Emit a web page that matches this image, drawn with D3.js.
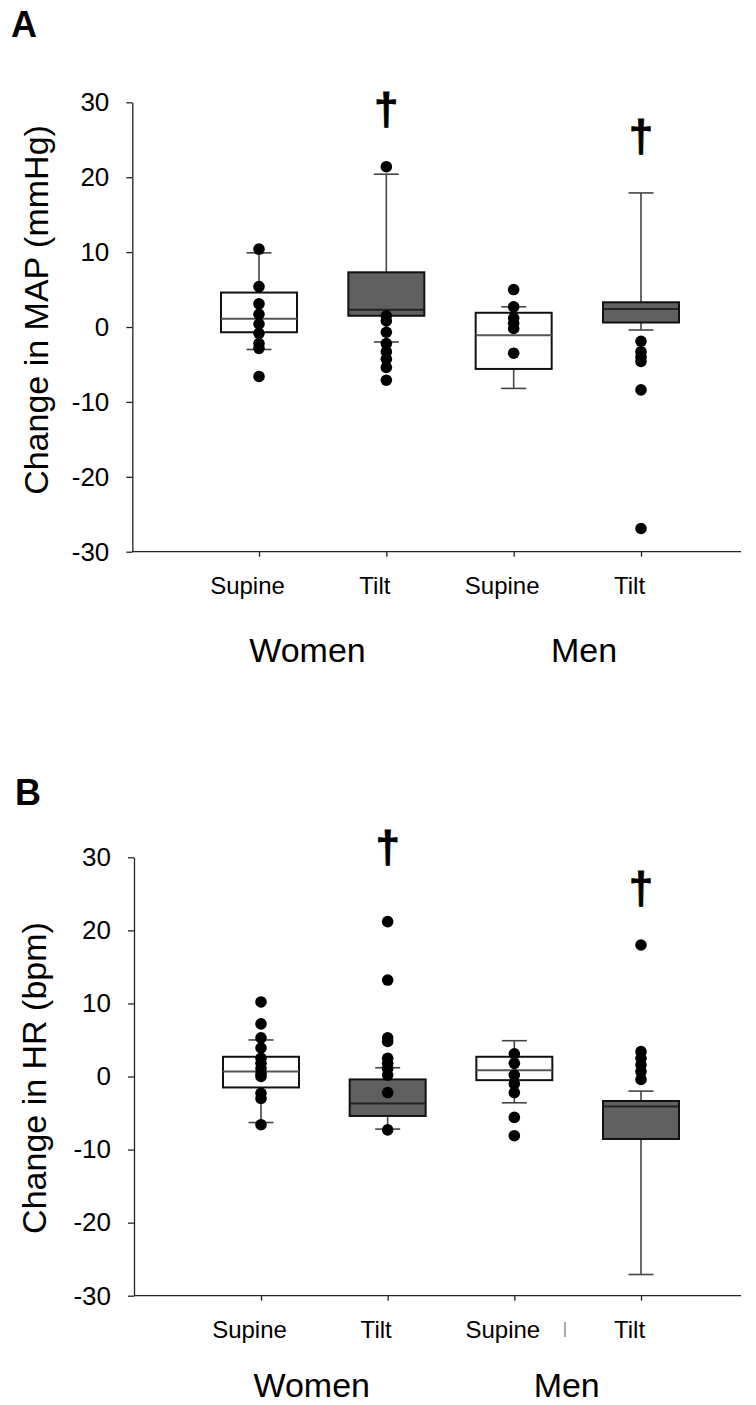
<!DOCTYPE html>
<html><head><meta charset="utf-8">
<script src="https://cdn.jsdelivr.net/npm/d3@7/dist/d3.min.js"></script>
<style>
html,body{margin:0;padding:0;background:#fff;}
svg{display:block;font-family:"Liberation Sans",Arial,sans-serif;}
</style></head>
<body>
<svg id="chart" width="756" height="1405"></svg>
<script>
// ---------- data ----------
const categories = ["Supine", "Tilt", "Supine", "Tilt"];
const groups = ["Women", "Men"];
const yTicks = [-30, -20, -10, 0, 10, 20, 30];
const boxFill = ["#ffffff", "#606060", "#ffffff", "#606060"];

// Panel A: change in MAP (mmHg)
const mapQ1 = [-0.7, 1.5, -5.6, 0.6];
const mapMedian = [1.1, 2.3, -1.1, 2.4];
const mapQ3 = [4.6, 7.3, 1.9, 3.3];
const mapWhiskLo = [-3.0, -2.0, -8.2, -0.4];
const mapWhiskHi = [9.9, 20.4, 2.7, 17.9];
const mapPoints = [
  [10.4, 5.4, 3.1, 1.7, 0.4, -0.85, -2.2, -2.85, -6.6],
  [21.4, 1.5, 0.8, -0.7, -2.2, -3.3, -4.3, -5.4, -7.1],
  [5.0, 2.7, 1.2, 0.5, -0.2, -3.5],
  [-1.9, -3.3, -4.0, -4.6, -8.4, -26.9]
];
const mapDagger = [null, 27.1, null, 23.5];

// Panel B: change in HR (bpm)
const hrQ1 = [-1.5, -5.4, -0.5, -8.55];
const hrMedian = [0.7, -3.7, 0.85, -4.1];
const hrQ3 = [2.7, -0.4, 2.7, -3.35];
const hrWhiskLo = [-6.3, -7.2, -3.6, -27.1];
const hrWhiskHi = [5.0, 1.2, 4.9, -2.0];
const hrPoints = [
  [10.2, 7.2, 5.3, 3.9, 2.5, 1.8, 1.1, 0.4, 0.0, -2.3, -3.0, -6.6],
  [21.2, 13.2, 5.3, 4.8, 2.5, 1.8, 1.1, 0.2, -2.2, -7.3],
  [3.1, 1.8, 0.2, -1.0, -2.2, -5.6, -8.1],
  [18.0, 3.4, 2.5, 1.6, 0.7, -0.4]
];
const hrDagger = [null, 29.4, null, 23.8];

// ---------- drawing ----------
const svg = d3.select("#chart");

function panel(cfg) {
  const g = svg.append("g");
  const y = d3.scaleLinear().domain([-30, 30]).range([cfg.yBottom, cfg.yTop]);
  const x = d3.scalePoint().domain(d3.range(categories.length)).range([cfg.xFirst, cfg.xLast]);
  const halfW = 38, capHalf = 12.5;

  // panel letter
  g.append("text").attr("x", cfg.letterX).attr("y", cfg.letterY)
    .attr("font-size", 36).attr("font-weight", "bold").attr("fill", "#000").text(cfg.letter);

  // y axis
  const yAxis = g.append("g").attr("transform", `translate(${cfg.axisX},0)`)
    .call(d3.axisLeft(y).tickValues(yTicks).tickSize(6).tickSizeOuter(0).tickPadding(17).tickFormat(d => String(d)));
  yAxis.selectAll("path,line").attr("stroke", "#222").attr("stroke-width", 1.3);
  yAxis.selectAll("text").attr("font-size", 26).attr("fill", "#000")
    .attr("font-family", "'Liberation Sans',Arial,sans-serif");

  // x axis
  const xAxis = g.append("g").attr("transform", `translate(0,${cfg.yBottom})`)
    .call(d3.axisBottom(x).tickSize(5).tickSizeOuter(0).tickPadding(0).tickFormat(i => categories[i]));
  xAxis.select(".domain").remove();
  xAxis.selectAll("line").attr("stroke", "#222").attr("stroke-width", 1.3);
  xAxis.selectAll("text").attr("font-size", 24).attr("fill", "#000")
    .attr("font-family", "'Liberation Sans',Arial,sans-serif")
    .attr("dy", null).attr("y", cfg.catBaseline - cfg.yBottom).attr("dx", -12);
  g.append("line").attr("x1", cfg.axisX).attr("x2", 741)
    .attr("y1", cfg.yBottom).attr("y2", cfg.yBottom)
    .attr("stroke", "#222").attr("stroke-width", 1.3);

  // group labels
  g.selectAll("text.grp").data(groups).enter().append("text").attr("class", "grp")
    .attr("x", (d, i) => cfg.groupX[i]).attr("y", cfg.groupBaseline)
    .attr("text-anchor", "middle").attr("font-size", 34).attr("fill", "#000").text(d => d);

  // y label
  g.append("text")
    .attr("transform", `translate(${cfg.yLabelX},${cfg.yLabelY}) rotate(-90)`)
    .attr("text-anchor", "middle").attr("dominant-baseline", "central")
    .attr("font-size", 34).attr("fill", "#000").text(cfg.yLabel);

  // whiskers
  categories.forEach((c, i) => {
    const cx = x(i);
    const wg = g.append("g").attr("stroke", "#444").attr("stroke-width", 1.6);
    wg.append("line").attr("x1", cx).attr("x2", cx).attr("y1", y(cfg.q3[i])).attr("y2", y(cfg.hi[i]));
    wg.append("line").attr("x1", cx).attr("x2", cx).attr("y1", y(cfg.q1[i])).attr("y2", y(cfg.lo[i]));
    wg.append("line").attr("x1", cx - capHalf).attr("x2", cx + capHalf).attr("y1", y(cfg.hi[i])).attr("y2", y(cfg.hi[i]));
    wg.append("line").attr("x1", cx - capHalf).attr("x2", cx + capHalf).attr("y1", y(cfg.lo[i])).attr("y2", y(cfg.lo[i]));
  });

  // boxes
  categories.forEach((c, i) => {
    const cx = x(i);
    g.append("rect").attr("x", cx - halfW).attr("width", halfW * 2)
      .attr("y", y(cfg.q3[i])).attr("height", y(cfg.q1[i]) - y(cfg.q3[i]))
      .attr("fill", boxFill[i]).attr("stroke", "#111").attr("stroke-width", 2);
    g.append("line").attr("x1", cx - halfW).attr("x2", cx + halfW)
      .attr("y1", y(cfg.med[i])).attr("y2", y(cfg.med[i]))
      .attr("stroke", boxFill[i] === "#ffffff" ? "#555" : "#222").attr("stroke-width", 2);
  });

  // points
  categories.forEach((c, i) => {
    g.selectAll(null).data(cfg.points[i]).enter().append("circle")
      .attr("cx", x(i)).attr("cy", d => y(d)).attr("r", 5.8).attr("fill", "#000");
  });

  // significance daggers
  cfg.dagger.forEach((d, i) => {
    if (d === null) return;
    g.append("text").attr("x", x(i)).attr("y", y(d)).attr("text-anchor", "middle")
      .attr("font-size", 44).attr("font-weight", "bold").attr("fill", "#000")
      .attr("stroke", "#000").attr("stroke-width", 0.8).text("\u2020");
  });

  if (cfg.stray) {
    g.append("line").attr("x1", cfg.stray[0]).attr("x2", cfg.stray[0])
      .attr("y1", cfg.stray[1]).attr("y2", cfg.stray[2]).attr("stroke", "#555").attr("stroke-width", 1);
  }
}

panel({
  letter: "A", letterX: 11, letterY: 37,
  yTop: 102.3, yBottom: 551.7, axisX: 132.3, xFirst: 259, xLast: 641,
  catBaseline: 594.3, groupBaseline: 661.7, groupX: [307.5, 584],
  yLabel: "Change in MAP (mmHg)", yLabelX: 36, yLabelY: 310,
  q1: mapQ1, med: mapMedian, q3: mapQ3, lo: mapWhiskLo, hi: mapWhiskHi,
  points: mapPoints, dagger: mapDagger
});

panel({
  letter: "B", letterX: 15, letterY: 805,
  yTop: 857.3, yBottom: 1295.7, axisX: 134, xFirst: 261, xLast: 641,
  catBaseline: 1338.3, groupBaseline: 1397, groupX: [311.7, 566.7],
  yLabel: "Change in HR (bpm)", yLabelX: 34, yLabelY: 1078,
  q1: hrQ1, med: hrMedian, q3: hrQ3, lo: hrWhiskLo, hi: hrWhiskHi,
  points: hrPoints, dagger: hrDagger, stray: [565, 1322, 1337]
});
</script>
</body></html>
